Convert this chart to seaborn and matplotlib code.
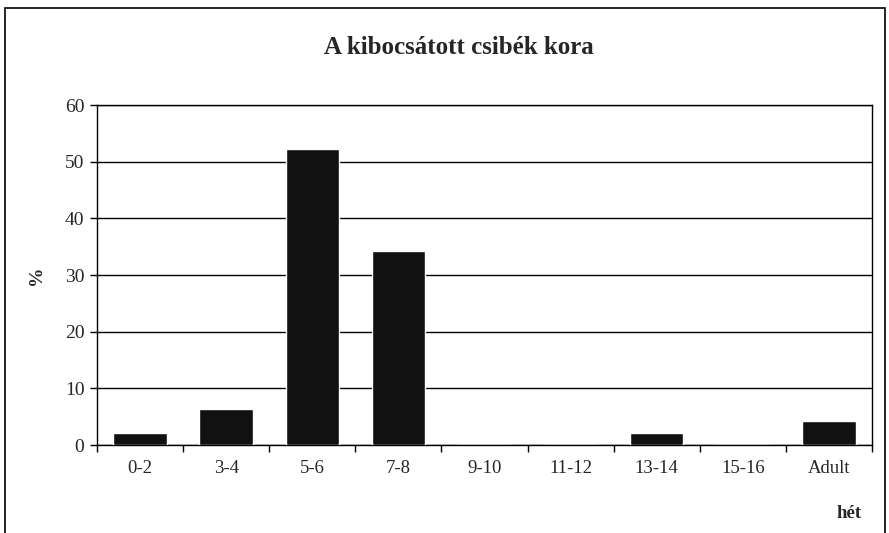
import matplotlib
matplotlib.use("Agg")
import matplotlib.pyplot as plt
import seaborn as sns
import pandas as pd

# age groups (weeks) and share of released chicks (%)
categories = ["0-2", "3-4", "5-6", "7-8", "9-10", "11-12", "13-14", "15-16", "Adult"]
percent = [2.2, 6.3, 52.2, 34.3, 0, 0, 2.2, 0, 4.2]
yticks = [0, 10, 20, 30, 40, 50, 60]

sns.set_style("white")
plt.rcParams["font.family"] = ["Liberation Serif", "DejaVu Serif"]

df = pd.DataFrame({"kor": categories, "pct": percent})

fig = plt.figure(figsize=(8.89, 5.33), dpi=100)
ax = fig.add_axes([0.109, 0.165, 0.872, 0.638])

sns.barplot(data=df, x="kor", y="pct", color="#111111", width=0.62,
            saturation=1, ax=ax, zorder=3)

ax.set_ylim(0, 60)
ax.set_xlim(-0.5, len(categories) - 0.5)
ax.set_yticks(yticks)
ax.set_yticklabels([str(t) for t in yticks], fontsize=14)
ax.yaxis.grid(True, color="black", linewidth=1)
ax.set_axisbelow(True)

# category labels at centres, tick marks between categories
ax.set_xticks([i - 0.5 for i in range(len(categories) + 1)])
ax.set_xticklabels([])
ax.set_xticks(range(len(categories)), minor=True)
ax.set_xticklabels(categories, minor=True, fontsize=13.5)
ax.tick_params(axis="x", which="major", direction="out", length=5, width=1, color="black", bottom=True)
ax.tick_params(axis="x", which="minor", length=0, pad=11)
ax.tick_params(axis="y", direction="out", length=5, width=1, color="black", left=True, pad=4)

for s in ax.spines.values():
    s.set_color("black")
    s.set_linewidth(1)

ax.set_xlabel("")
ax.set_ylabel("%", fontsize=14, fontweight="bold", labelpad=14)
ax.set_title("A kibocsátott csibék kora", fontsize=18, fontweight="bold", pad=37, x=0.467)
fig.text(0.955, 0.02, "hét", fontsize=13.5, fontweight="bold", ha="center", va="bottom")

# outer frame of the chart area
frame = plt.Rectangle((0.006, -0.01), 0.99, 0.995, transform=fig.transFigure,
                      fill=False, edgecolor="black", linewidth=1.2)
fig.patches.append(frame)

fig.savefig("out.png", dpi=100)
